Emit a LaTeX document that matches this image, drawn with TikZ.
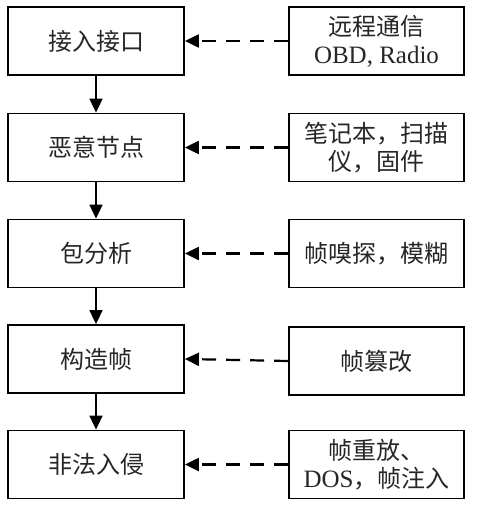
\documentclass[tikz,border=0pt]{standalone}
\usepackage{fontspec}
\setmainfont{Liberation Serif}
\newfontfamily\cjk{Noto Sans CJK SC}
\usetikzlibrary{arrows.meta}
\begin{document}
\begin{tikzpicture}[x=1pt,y=-1pt,
  box/.style={draw=black,line width=1.8pt,minimum width=176pt,minimum height=68pt,inner sep=0pt,align=center,font=\fontsize{24}{28}\selectfont\cjk,text=black!85},
  flow/.style={line width=1.8pt,-{Triangle[length=14pt,width=13pt]}},
  feed/.style={line width=2.2pt,dash pattern=on 14pt off 10pt,-{Triangle[length=14pt,width=13pt]}}]
\useasboundingbox (0,0) rectangle (480,510);
\node[box] (a1) at (96,41) {接入接口};
\node[box] (a2) at (96,147.5) {恶意节点};
\node[box] (a3) at (96,253.5) {包分析};
\node[box] (a4) at (96,359) {构造帧};
\node[box] (a5) at (96,464.5) {非法入侵};
\node[box,minimum width=175pt] (b1) at (376.5,41) {远程通信\\{\rmfamily\fontsize{25}{28}\selectfont OBD, Radio}};
\node[box,minimum width=175pt] (b2) at (376.5,147.5) {笔记本，扫描\\仪，固件};
\node[box,minimum width=175pt] (b3) at (376.5,253.5) {帧嗅探，模糊};
\node[box,minimum width=175pt] (b4) at (376.5,361) {帧篡改};
\node[box,minimum width=175pt] (b5) at (376.5,464.5) {帧重放、\\{\rmfamily\fontsize{25}{28}\selectfont DOS}，帧注入};
\draw[flow] (a1) -- (a2);
\draw[flow] (a2) -- (a3);
\draw[flow] (a3) -- (a4);
\draw[flow] (a4) -- (a5);
\draw[feed] (b1) -- (a1);
\draw[feed] (b2) -- (a2);
\draw[feed] (b3) -- (a3);
\draw[feed] (b4.west) -- (a4.east);
\draw[feed] (b5) -- (a5);
\end{tikzpicture}
\end{document}
